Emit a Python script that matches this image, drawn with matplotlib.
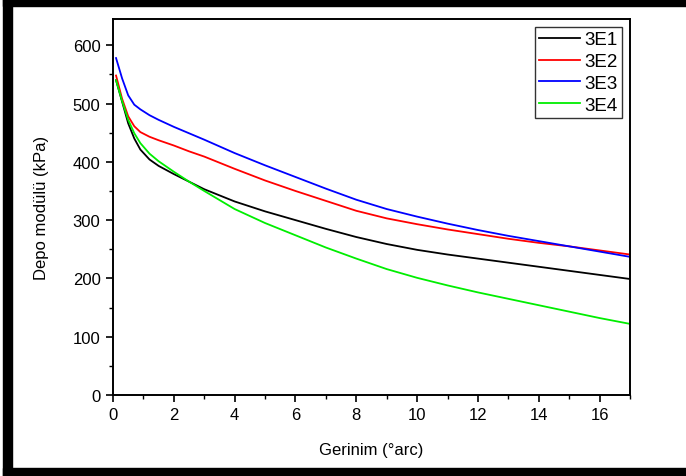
import numpy as np
import matplotlib.pyplot as plt
from matplotlib.patches import Rectangle
from matplotlib.ticker import MultipleLocator

plt.rcParams['font.family'] = ['Liberation Sans', 'DejaVu Sans']

# strain values (degrees of arc)
strain = [0.1, 0.3, 0.5, 0.7, 0.9, 1.2, 1.5, 2, 2.5, 3, 4, 5, 6, 7, 8, 9,
          10, 11, 12, 13, 14, 15, 16, 17]

# storage modulus (kPa)
e1 = [540, 503, 466, 440, 421, 404, 393, 379, 366, 353, 332, 315, 300, 285,
      271, 259, 249, 241, 234, 227, 220, 213, 206, 199]
e2 = [548, 508, 478, 461, 451, 443, 437, 428, 418, 409, 388, 368, 350, 333,
      316, 303, 293, 284, 276, 268, 261, 255, 248, 241]
e3 = [578, 543, 514, 498, 490, 480, 472, 460, 449, 438, 415, 394, 374, 354,
      335, 319, 306, 294, 283, 273, 264, 255, 246, 237]
e4 = [540, 504, 472, 449, 432, 414, 401, 383, 366, 350, 319, 295, 274, 253,
      234, 216, 201, 188, 176, 165, 154, 143, 132, 122]

names = ['3E1', '3E2', '3E3', '3E4']
colors = ['black', 'red', 'blue', '#00ee00']

fig = plt.figure(figsize=(6.86, 4.77), dpi=100)
ax = fig.add_axes([113/686, 1 - 396/477, (630 - 113)/686, (396 - 20)/477])

for ys, name, c in zip([e1, e2, e3, e4], names, colors):
    ax.plot(strain, ys, color=c, lw=1.3, label=name)

ax.set_xlim(0, 17)
ax.set_ylim(0, 645)
ax.xaxis.set_major_locator(MultipleLocator(2))
ax.xaxis.set_minor_locator(MultipleLocator(1))
ax.yaxis.set_major_locator(MultipleLocator(100))
ax.yaxis.set_minor_locator(MultipleLocator(50))
ax.tick_params(which='major', direction='out', length=5, width=1.2,
               labelsize=12, pad=4)
ax.tick_params(which='minor', direction='out', length=3, width=1.0)
for s in ax.spines.values():
    s.set_linewidth(1.4)

ax.set_xlabel('Gerinim (°arc)', fontsize=12, labelpad=14)
ax.set_ylabel('Depo modülü (kPa)', fontsize=12, labelpad=17)

leg = ax.legend(loc='upper right', fontsize=13.5, frameon=True, fancybox=False,
                handlelength=2.2, handletextpad=0.25, borderpad=0.2,
                labelspacing=0.25, borderaxespad=0.45)
leg.get_frame().set_edgecolor('black')
leg.get_frame().set_linewidth(1.0)

# black frame around the picture (top, left, bottom)
fig.patches.append(Rectangle((3/686, 1 - 7/477), 1, 7/477, transform=fig.transFigure,
                             color='black', zorder=10))
fig.patches.append(Rectangle((3/686, 0), 9/686, 1, transform=fig.transFigure,
                             color='black', zorder=10))
fig.patches.append(Rectangle((3/686, 0), 1, 8/477, transform=fig.transFigure,
                             color='black', zorder=10))

fig.savefig('out.png', dpi=100)
